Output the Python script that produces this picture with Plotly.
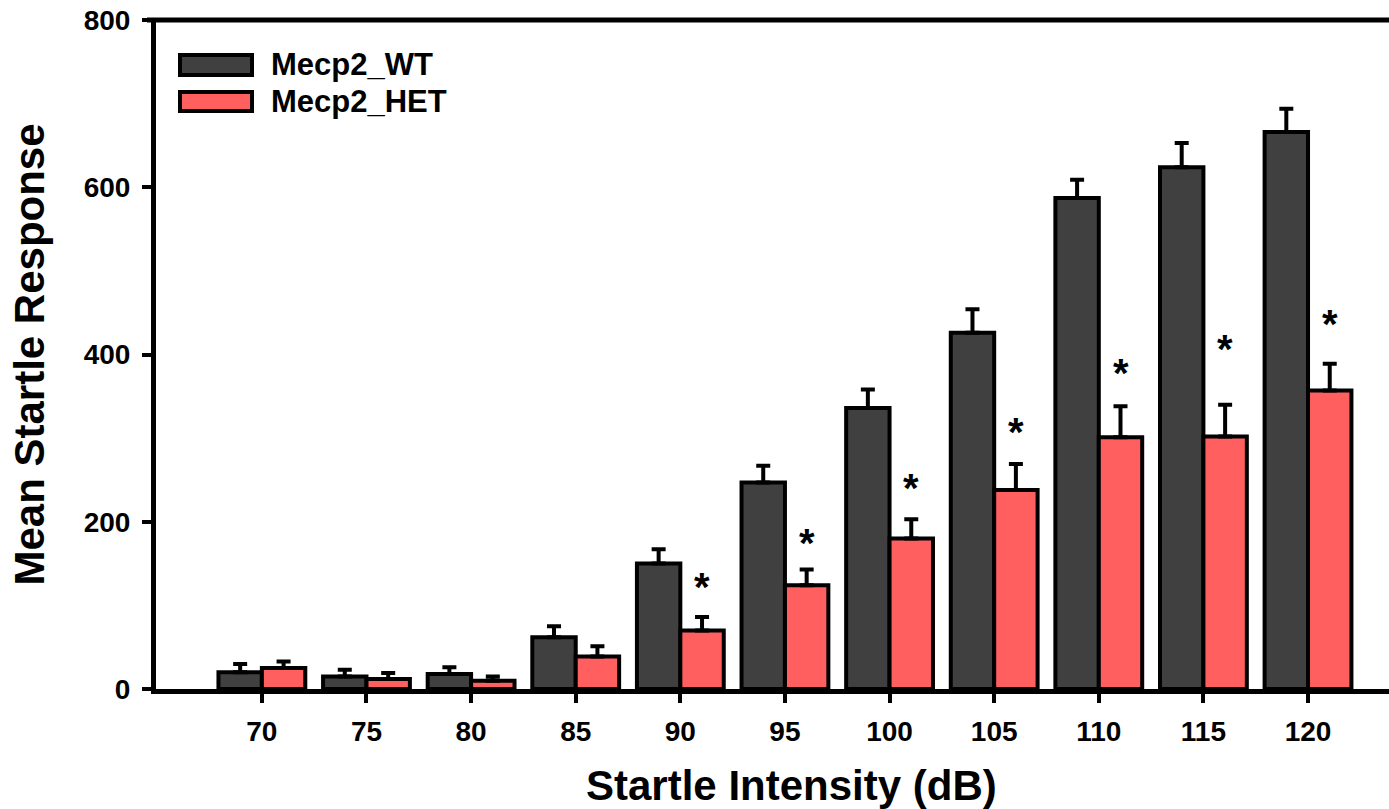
import plotly.graph_objects as go

# ---- data ----
intensity = ["70", "75", "80", "85", "90", "95", "100", "105", "110", "115", "120"]
wt_mean = [20, 15, 18, 62, 150, 247, 336, 426, 587, 624, 666]
wt_sem = [10, 8, 8, 13, 17, 20, 22, 28, 22, 29, 28]
het_mean = [25, 12, 10, 39, 70, 124, 180, 238, 301, 302, 357]
het_sem = [8, 7, 5, 12, 16, 19, 23, 31, 37, 38, 32]
sig_labels = ["90", "95", "100", "105", "110", "115", "120"]
sig_y = [128, 180, 246, 313, 384, 413, 443]

series_names = ["Mecp2_WT", "Mecp2_HET"]
WT_COLOR = "#404040"
HET_COLOR = "#FF5F5F"
FONT = "Arial, Liberation Sans, sans-serif"

# page geometry (px)
W, H = 1389, 809
L, R, T, B = 156, 1389, 20, 689


def px_x(p):
    return (p - L) / (R - L)


def px_y(p):
    return (B - p) / (B - T)


fig = go.Figure()
fig.add_trace(go.Bar(
    x=intensity, y=wt_mean, name=series_names[0],
    marker=dict(color=WT_COLOR, line=dict(color="black", width=4)),
    error_y=dict(type="data", array=wt_sem, arrayminus=[0] * len(wt_sem),
                 symmetric=False, color="black", thickness=4, width=7),
))
fig.add_trace(go.Bar(
    x=intensity, y=het_mean, name=series_names[1],
    marker=dict(color=HET_COLOR, line=dict(color="black", width=4)),
    error_y=dict(type="data", array=het_sem, arrayminus=[0] * len(het_sem),
                 symmetric=False, color="black", thickness=4, width=7),
))

bargap = 0.17
het_offset = (1 - bargap) / 4

for lab, yv in zip(sig_labels, sig_y):
    idx = intensity.index(lab)
    fig.add_annotation(x=idx + het_offset, y=yv, xref="x", yref="y", text="*",
                       showarrow=False, yanchor="middle", yshift=-5,
                       font=dict(family=FONT, size=40, color="black", weight="bold"))

# custom legend
shapes = []
for name, color, (y0, y1) in zip(series_names, [WT_COLOR, HET_COLOR], [(55, 75), (92, 111)]):
    shapes.append(dict(type="rect", xref="paper", yref="paper",
                       x0=px_x(180), x1=px_x(252), y0=px_y(y1), y1=px_y(y0),
                       fillcolor=color, line=dict(color="black", width=4), layer="above"))
    fig.add_annotation(xref="paper", yref="paper", x=px_x(269), y=px_y((y0 + y1) / 2),
                       text=name, showarrow=False, xanchor="left", yanchor="middle",
                       font=dict(family=FONT, size=31, color="black", weight="bold"))

# top frame line
shapes.append(dict(type="line", xref="paper", yref="paper", x0=px_x(147), x1=1, y0=1, y1=1,
                   line=dict(color="black", width=5)))

# x-axis title as annotation (original plot was wider than the crop)
fig.add_annotation(xref="paper", yref="paper", x=px_x(791), y=px_y(785),
                   text="Startle Intensity (dB)", showarrow=False,
                   xanchor="center", yanchor="middle",
                   font=dict(family=FONT, size=42, color="black", weight="bold"))

tickfont = dict(family=FONT, size=28, color="black", weight="bold")

fig.update_layout(
    width=W, height=H,
    margin=dict(l=L, r=W - R, t=T, b=H - B, pad=0),
    barmode="group", bargap=bargap, bargroupgap=0,
    plot_bgcolor="white", paper_bgcolor="white",
    showlegend=False,
    shapes=shapes,
    font=dict(family=FONT, color="black"),
    xaxis=dict(
        type="category", range=[-1.012, 10.774],
        showline=True, linecolor="black", linewidth=5,
        ticks="outside", ticklen=9, tickwidth=4, tickcolor="black",
        showgrid=False, zeroline=False,
        tickfont=tickfont,
        ticklabelstandoff=4,
    ),
    yaxis=dict(
        range=[0, 800], tickvals=[0, 200, 400, 600, 800],
        showline=True, linecolor="black", linewidth=5,
        ticks="outside", ticklen=9, tickwidth=4, tickcolor="black",
        showgrid=False, zeroline=False,
        tickfont=tickfont,
        ticklabelstandoff=6,
        title=dict(text="Mean Startle Response", standoff=27,
                   font=dict(family=FONT, size=42, color="black", weight="bold")),
    ),
)

fig.write_html(
    "out.html",
    config={"displayModeBar": False},
    post_script="document.body.style.margin='0';document.body.style.overflow='hidden';",
)
